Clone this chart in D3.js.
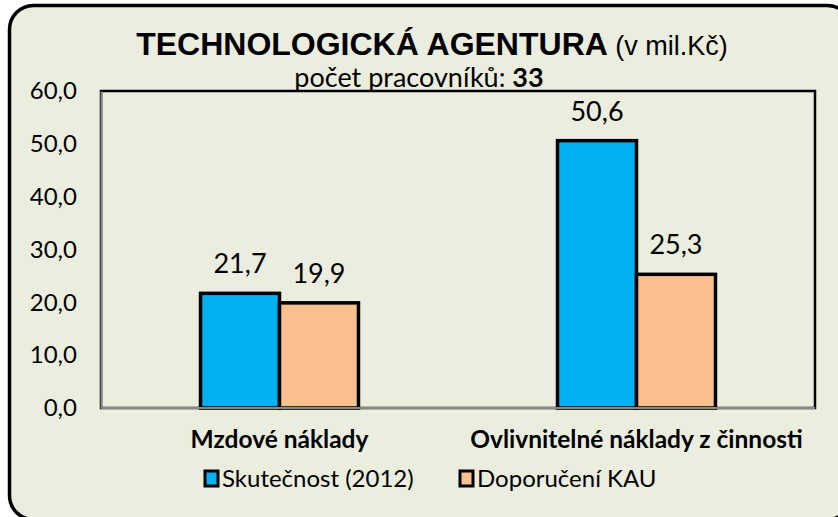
<!DOCTYPE html>
<html>
<head>
<meta charset="utf-8">
<script src="https://cdn.jsdelivr.net/npm/d3@7"></script>
<style>
  body { margin: 0; background: #fff; }
  svg { display: block; }
  text { font-family: Lato, "Open Sans", sans-serif; fill: #000; }
</style>
</head>
<body>
<script>
/////////////////////////////////////////////////
// data
/////////////////////////////////////////////////
var categories = ["Mzdové náklady", "Ovlivnitelné náklady z činnosti"];
var seriesNames = ["Skutečnost (2012)", "Doporučení KAU"];
var skutecnost = [21.7, 50.6];
var doporuceni = [19.9, 25.3];
var yTicks = [0, 10, 20, 30, 40, 50, 60];
var colors = ["#00B0F0", "#FAC090"];

var width  = 838,
    height = 517;

var plot = { left: 101, top: 91, right: 815, bottom: 408 };

var fmt = function(v) { return d3.format(".1f")(v).replace(".", ","); };

var svg = d3.select("body").append("svg")
    .attr("width", width)
    .attr("height", height);

// chart background with rounded border (runs off the right/bottom edge)
svg.append("rect")
    .attr("x", 9.5).attr("y", 5.5)
    .attr("width", 842).attr("height", 514)
    .attr("rx", 24).attr("ry", 24)
    .style("fill", "#EBEEDF")
    .style("stroke", "#000")
    .style("stroke-width", 3.5);

// scales
var y = d3.scaleLinear().domain([0, 60]).range([plot.bottom, plot.top]);

var x0 = d3.scaleBand()
    .domain(categories)
    .range([plot.left, plot.right])
    .padding(0);

var x1 = d3.scaleBand()
    .domain(seriesNames)
    .range([0, x0.bandwidth()])
    .paddingInner(0)
    .paddingOuter(1.26);

// plot area border
svg.append("rect")
    .attr("x", plot.left).attr("y", plot.top)
    .attr("width", plot.right - plot.left)
    .attr("height", plot.bottom - plot.top)
    .style("fill", "none")
    .style("stroke", "#000")
    .style("stroke-width", 2.5);

// y axis (labels only, gray line)
var yAxis = d3.axisLeft(y)
    .tickValues(yTicks)
    .tickSize(0)
    .tickPadding(24)
    .tickFormat(fmt);

var gy = svg.append("g")
    .attr("transform", "translate(" + plot.left + ",0)")
    .call(yAxis);
gy.select(".domain").attr("stroke", "#888").attr("stroke-width", 2);
gy.selectAll("text")
    .style("font-family", "Lato, sans-serif")
    .style("font-size", "24px")
    .attr("fill", "#000");

// bars
var rows = categories.map(function(c, i) {
  return [
    { cat: c, name: seriesNames[0], value: skutecnost[i], color: colors[0] },
    { cat: c, name: seriesNames[1], value: doporuceni[i], color: colors[1] }
  ];
});

var groups = svg.selectAll("g.cat")
    .data(rows)
  .enter().append("g")
    .attr("class", "cat")
    .attr("transform", function(d) { return "translate(" + x0(d[0].cat) + ",0)"; });

groups.selectAll("rect")
    .data(function(d) { return d; })
  .enter().append("rect")
    .attr("x", function(d) { return x1(d.name); })
    .attr("y", function(d) { return y(d.value); })
    .attr("width", x1.bandwidth())
    .attr("height", function(d) { return y(0) - y(d.value); })
    .style("fill", function(d) { return d.color; })
    .style("stroke", "#000")
    .style("stroke-width", 3.5);

groups.selectAll("text.val")
    .data(function(d) { return d; })
  .enter().append("text")
    .attr("class", "val")
    .attr("x", function(d) { return x1(d.name) + x1.bandwidth() / 2; })
    .attr("y", function(d) { return y(d.value) - 20; })
    .attr("text-anchor", "middle")
    .style("font-size", "27px")
    .text(function(d) { return fmt(d.value); });

// x axis line (gray)
svg.append("line")
    .attr("x1", plot.left).attr("x2", plot.right)
    .attr("y1", y(0)).attr("y2", y(0))
    .style("stroke", "#888")
    .style("stroke-width", 2);

// category labels
var xAxis = d3.axisBottom(x0).tickSize(0).tickPadding(0);
var gx = svg.append("g")
    .attr("transform", "translate(0," + y(0) + ")")
    .call(xAxis);
gx.select(".domain").remove();
gx.selectAll("text")
    .attr("y", 40)
    .attr("dy", null)
    .style("font-family", "Lato, sans-serif")
    .style("font-size", "24.5px")
    .style("font-weight", "bold")
    .attr("fill", "#000");

// titles
var title = svg.append("text")
    .attr("x", 432).attr("y", 55)
    .attr("text-anchor", "middle");
title.append("tspan")
    .style("font-family", "'Liberation Sans', Arial, sans-serif")
    .style("font-weight", "bold")
    .style("font-size", "32px")
    .text("TECHNOLOGICKÁ AGENTURA");
title.append("tspan")
    .style("font-family", "'Liberation Sans', Arial, sans-serif")
    .style("font-size", "27px")
    .text(" (v mil.Kč)");

var sub = svg.append("text")
    .attr("x", 419).attr("y", 87)
    .attr("text-anchor", "middle")
    .style("font-size", "27px");
sub.append("tspan").text("počet pracovníků: ");
sub.append("tspan").style("font-weight", "bold").text("33");

// legend
var legendX = [205, 460];
var legend = svg.selectAll("g.legend")
    .data(seriesNames)
  .enter().append("g")
    .attr("class", "legend")
    .attr("transform", function(d, i) { return "translate(" + legendX[i] + ",471)"; });

legend.append("rect")
    .attr("width", 13).attr("height", 15)
    .style("fill", function(d, i) { return colors[i]; })
    .style("stroke", "#000")
    .style("stroke-width", 3);

legend.append("text")
    .attr("x", 17).attr("y", 16)
    .style("font-size", "24px")
    .text(function(d) { return d; });
</script>
</body>
</html>
